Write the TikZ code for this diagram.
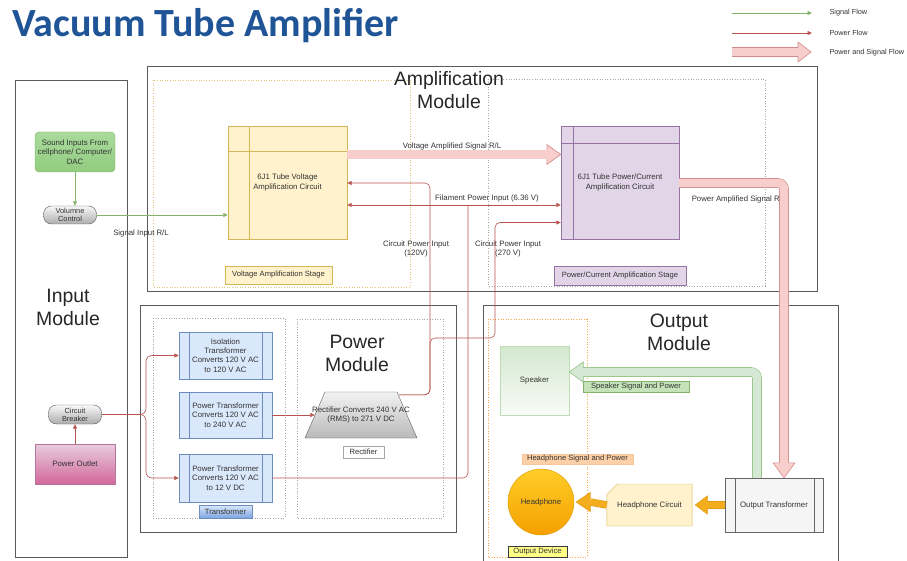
\documentclass[tikz,border=0pt]{standalone}
\usepackage{fontspec}
\setmainfont{Liberation Sans}
\newfontfamily\titlefont{Carlito}
\usetikzlibrary{arrows.meta,calc,shapes.geometric,shapes.misc}

\definecolor{titleblue}{HTML}{1F5597}
\definecolor{txt}{HTML}{333333}
\definecolor{modline}{HTML}{5A5A5A}
\definecolor{pwr}{HTML}{B85450}
\definecolor{sig}{HTML}{82B366}
\definecolor{pinkF}{HTML}{F8CECC}
\definecolor{pinkS}{HTML}{D08A88}
\definecolor{grnF}{HTML}{D5E8D4}
\definecolor{grnS}{HTML}{96C286}
\definecolor{orF}{HTML}{F4AD1C}
\definecolor{orS}{HTML}{E39B10}
\definecolor{yelF}{HTML}{FFF2CC}
\definecolor{yelS}{HTML}{D6B656}
\definecolor{purF}{HTML}{E1D5E7}
\definecolor{purS}{HTML}{9673A6}
\definecolor{bluF}{HTML}{DAE8FC}
\definecolor{bluS}{HTML}{6C8EBF}
\definecolor{bluD}{HTML}{7EA6E0}
\definecolor{sndT}{HTML}{A9DB9C}
\definecolor{sndB}{HTML}{92CB80}
\definecolor{outS}{HTML}{B5739D}
\definecolor{outT}{HTML}{E8CCDE}
\definecolor{outB}{HTML}{D3689A}
\definecolor{spkS}{HTML}{BFDDB5}
\definecolor{spkT}{HTML}{D3E8CF}
\definecolor{spkB}{HTML}{F8FBF7}
\definecolor{spkL}{HTML}{C5E3B8}
\definecolor{otrF}{HTML}{F5F5F5}
\definecolor{hpT}{HTML}{FFCD28}
\definecolor{hpB}{HTML}{F5A000}
\definecolor{hpS}{HTML}{D79B00}
\definecolor{hplF}{HTML}{FDD0A8}
\definecolor{hplS}{HTML}{F7C79A}
\definecolor{odF}{HTML}{FFFF88}
\definecolor{odS}{HTML}{36393D}

\tikzset{
  pics/fathead/.style n args={5}{code={
    \fill[#4] (-#1,-#3) -- (-#1,-#2) -- (0,0) -- (-#1,#2) -- (-#1,#3) -- cycle;
    \draw[#5, line width=0.6pt, line join=miter] (-#1,-#3) -- (-#1,-#2) -- (0,0) -- (-#1,#2) -- (-#1,#3);
  }},
  modbox/.style={draw=modline, line width=0.7pt},
  region/.style={draw=#1, line width=0.6pt, dash pattern=on 1pt off 1.6pt},
  modlabel/.style={font=\fontsize{19.4}{23}\selectfont, align=center, text=black!85},
  tag/.style={inner sep=0.5pt, font=\fontsize{7.6}{9}\selectfont},
  pill/.style={draw=gray!70!black, top color=gray!5, bottom color=gray!65, rounded corners=8pt,
    minimum width=53pt, minimum height=18pt, inner sep=0.5pt, align=center,
    font=\fontsize{7.4}{8}\selectfont},
  xfmr/.style={draw=bluS, fill=bluF, minimum width=93pt, minimum height=47pt, align=center, inner sep=1pt},
  sigln/.style={draw=sig, line width=0.6pt, -{Triangle[length=4.5pt,width=4pt]}},
  pwln/.style={draw=pwr, line width=0.6pt, -{Triangle[length=4.5pt,width=4pt]}},
  fatpink/.style={draw=pinkS, double=pinkF, double distance=8.4pt, line width=0.6pt},
  fatgreen/.style={draw=grnS, double=grnF, double distance=8.4pt, line width=0.6pt},
  fatorange/.style={draw=orS, double=orF, double distance=6.2pt, line width=0.6pt},
}

\begin{document}
\begin{tikzpicture}[x=1pt, y=-1pt, font=\fontsize{7.8}{9.3}\selectfont, text=txt]
\useasboundingbox (0,0) rectangle (907,561);

% title
\node[anchor=base west, inner sep=0, text=titleblue,
  font={\titlefont\bfseries\fontsize{40}{44}\selectfont}] (title) at (12,37) {Vacuum Tube Amplifier};

% legend
\coordinate (lg1a) at (732,13); \coordinate (lg1b) at (812,13);
\coordinate (lg2a) at (732,33); \coordinate (lg2b) at (812,33);
\coordinate (lg3a) at (732,52); \coordinate (lg3b) at (811,52);
\draw[sigln] (lg1a) -- (lg1b);
\draw[pwln] (lg2a) -- (lg2b);
\draw[fatpink] (lg3a) -- ($(lg3b)+(-13,0)$);
\pic at (lg3b) {fathead={13}{10}{4.5}{pinkF}{pinkS}};
\begin{scope}[font=\fontsize{7.3}{9}\selectfont]
\node[anchor=west] (lgt1) at (826,13) {Signal Flow};
\node[anchor=west] (lgt2) at (826,33) {Power Flow};
\node[anchor=west] (lgt3) at (826,53) {Power and Signal Flow};
\end{scope}

% module frames
\draw[modbox] (15,80) rectangle (127,557);
\draw[modbox] (147,66) rectangle (817,291);
\draw[modbox] (140,305) rectangle (456,532);
\draw[modbox] (483,561) -- (483,305) -- (838,305) -- (838,561);

% stage regions
\draw[region=yelS!80] (153,80) rectangle (410,287);
\draw[region=gray!70] (488,79) rectangle (765,286);
\draw[region=gray!70] (153,318) rectangle (285,518);
\draw[region=gray!70] (297,319) rectangle (443,518);
\draw[region=orange!70] (488,319) rectangle (587,557);

% module titles
\node[modlabel] (inlbl) at (68,307) {Input\\Module};
\node[modlabel] (amplbl) at (449,90) {Amplification\\Module};
\node[modlabel] (pwrlbl) at (357,353) {Power\\Module};
\node[modlabel] (outlbl) at (679,332) {Output\\Module};

% input module
\node[draw=sig, top color=sndT, bottom color=sndB, rounded corners=4pt,
  minimum width=80pt, minimum height=40pt, align=center, inner sep=1pt] (sound) at (75,152)
  {Sound Inputs From\\cellphone/ Computer/\\DAC};
\node[pill] (vol) at (70,215) {Volumne\\Control};
\node[pill, minimum height=19pt] (brk) at (75,414.5) {Circuit\\Breaker};
\node[draw=outS, top color=outT, bottom color=outB,
  minimum width=80pt, minimum height=40pt] (outlet) at (75,464) {Power Outlet};

% amplification module
\node[draw=yelS, fill=yelF, minimum width=119pt, minimum height=113pt, align=center] (va)
  at (287.5,182.5) {6J1 Tube Voltage\\Amplification Circuit};
\draw[yelS] ([xshift=21pt]va.north west) -- ([xshift=21pt]va.south west);
\draw[yelS] ([yshift=-25pt]va.north west) -- ([yshift=-25pt]va.north east);
\node[draw=purS, fill=purF, minimum width=118pt, minimum height=113pt, align=center] (pa)
  at (620,182.5) {6J1 Tube Power/Current\\Amplification Circuit};
\draw[purS] ([xshift=12pt]pa.north west) -- ([xshift=12pt]pa.south west);
\draw[purS] ([yshift=-17pt]pa.north west) -- ([yshift=-17pt]pa.north east);
\node[tag, fill=yelF, draw=yelS, minimum width=107pt, minimum height=18pt] (vst) at (278.5,275)
  {Voltage Amplification Stage};
\node[tag, fill=purF, draw=purS, minimum width=132pt, minimum height=19pt] (pst) at (620,275.5)
  {Power/Current Amplification Stage};

% power module
\node[xfmr] (iso) at (225.5,355.5) {Isolation\\Transformer\\Converts 120 V AC\\to 120 V AC};
\node[xfmr, minimum height=46pt] (p240) at (225.5,415) {Power Transformer\\Converts 120 V AC\\to 240 V AC};
\node[xfmr, minimum height=48pt] (p12) at (225.5,478) {Power Transformer\\Converts 120 V AC\\to 12 V DC};
\foreach \b in {iso,p240,p12}{
  \draw[bluS] ([xshift=10pt]\b.north west) -- ([xshift=10pt]\b.south west);
  \draw[bluS] ([xshift=-10pt]\b.north east) -- ([xshift=-10pt]\b.south east);
}
\node[tag, top color=bluF, bottom color=bluD, draw=bluS, minimum width=53pt, minimum height=13pt]
  (xlbl) at (225.5,511.5) {Transformer};
% rectifier: trapezoid body, then its text node on top
\shade[draw=gray!75!black, top color=gray!10, bottom color=gray!55]
  (325,392) -- (397,392) -- (417,438) -- (305,438) -- cycle;
\node[align=center, inner sep=0pt, minimum width=112pt, minimum height=46pt] (rect)
  at (361,415) {Rectifier Converts 240 V AC\\(RMS) to 271 V DC};
\node[tag, fill=white, draw=gray!70, minimum width=41pt, minimum height=12pt] (rlbl) at (363.5,452) {Rectifier};

% output module
\node[draw=spkS, top color=spkT, bottom color=spkB, minimum width=69pt,
  minimum height=69pt] (spk) at (534.5,380.5) {Speaker};
\node[tag, fill=spkL, draw=sig, minimum width=106pt, minimum height=11pt] (spklbl) at (636,386.5)
  {Speaker Signal and Power};
\node[draw=gray!80!black, fill=otrF, minimum width=98pt, minimum height=54pt] (otr) at (774,505)
  {Output Transformer};
\draw[gray!80!black] ([xshift=10pt]otr.north west) -- ([xshift=10pt]otr.south west);
\draw[gray!80!black] ([xshift=-9pt]otr.north east) -- ([xshift=-9pt]otr.south east);
\node[chamfered rectangle, chamfered rectangle corners=north west, chamfered rectangle xsep=9pt,
  fill=yelF, draw=yelS, minimum width=73pt, minimum height=42pt] (hpc) at (649.5,505) {Headphone Circuit};
\node[circle, minimum size=66pt, top color=hpT, bottom color=hpB, draw=hpS]
  (hp) at (541,502) {Headphone};
\node[tag, fill=hplF, draw=hplS, minimum width=111pt, minimum height=10pt] (hplbl)
  at (577.5,459) {Headphone Signal and Power};
\node[tag, fill=odF, draw=odS, minimum width=59pt, minimum height=11pt] (odlbl)
  at (537.5,551.5) {Output Device};

% connector labels
\node (sinlbl) at (141,233) {Signal Input R/L};
\node (vaslbl) at (452,146) {Voltage Amplified Signal R/L};
\node (fillbl) at (487,198) {Filament Power Input (6.36 V)};
\node[align=center] (c120lbl) at (416,249) {Circuit Power Input\\(120V)};
\node[align=center] (c270lbl) at (508,249) {Circuit Power Input\\(270 V)};
\node (paslbl) at (739,199) {Power Amplified Signal R/L};

% signal connectors
\draw[sigln] (sound.south) -- (sound.south |- vol.north);
\draw[sigln] (vol.east) -- (vol.east -| va.west);

% power connectors
\draw[pwln] (outlet.north) -- (brk.south);
\coordinate (split) at (146,414.5);
\draw[pwln, rounded corners=6] (brk.east) -- (split) |- (iso.west);
\draw[pwln, rounded corners=6] (brk.east) -- (split) |- (p12.west);
\draw[pwln] (p240.east) -- ([xshift=10pt]rect.west);
\coordinate (rout) at ($(rect.north east)+(-18,3)$);
\coordinate (c120) at (430,183);
\coordinate (c338) at (430,338);
\coordinate (c270) at (495,222.5);
\draw[pwln, rounded corners=5] (rout) -| (c120) -- (va.east |- c120);
\draw[pwln, rounded corners=5] (rout) -| (c338) -| (c270) -- (pa.west |- c270);
\coordinate (jf) at (468,205);
\draw[pwr, line width=0.6pt, rounded corners=5] (p12.east) -| (jf);
\draw[pwln, {Triangle[length=4.5pt,width=4pt]}-{Triangle[length=4.5pt,width=4pt]}] (va.east |- jf) -- (pa.west |- jf);

% power and signal flow
\coordinate (vay) at (0,154.5);
\draw[fatpink] (va.east |- vay) -- ($(pa.west |- vay)+(-14,0)$);
\pic at (pa.west |- vay) {fathead={14}{10}{4.5}{pinkF}{pinkS}};
\coordinate (pcorner) at (784,183);
\draw[fatpink, rounded corners=6] (pa.east |- pcorner) -- (pcorner) -- ($(otr.north -| pcorner)+(0,-15)$);
\pic[rotate=-90] at (otr.north -| pcorner) {fathead={15}{11}{4.5}{pinkF}{pinkS}};
\coordinate (scorner) at (757,372);
\draw[fatgreen, rounded corners=6] (otr.north -| scorner) -- (scorner) -- ($(spk.east |- scorner)+(14,0)$);
\pic[rotate=180] at (spk.east |- scorner) {fathead={14}{10}{4.5}{grnF}{grnS}};
\draw[fatorange] (otr.west) -- ($(hpc.east)+(15,0)$);
\pic[rotate=180] at ($(hpc.east)+(3,0)$) {fathead={12}{9}{3.4}{orF}{orS}};
\draw[fatorange] (hpc.west) -- ($(hp.east)+(16,0)$);
\pic[rotate=180] at ($(hp.east)+(2,0)$) {fathead={14}{9.5}{3.4}{orF}{orS}};
\end{tikzpicture}
\end{document}
